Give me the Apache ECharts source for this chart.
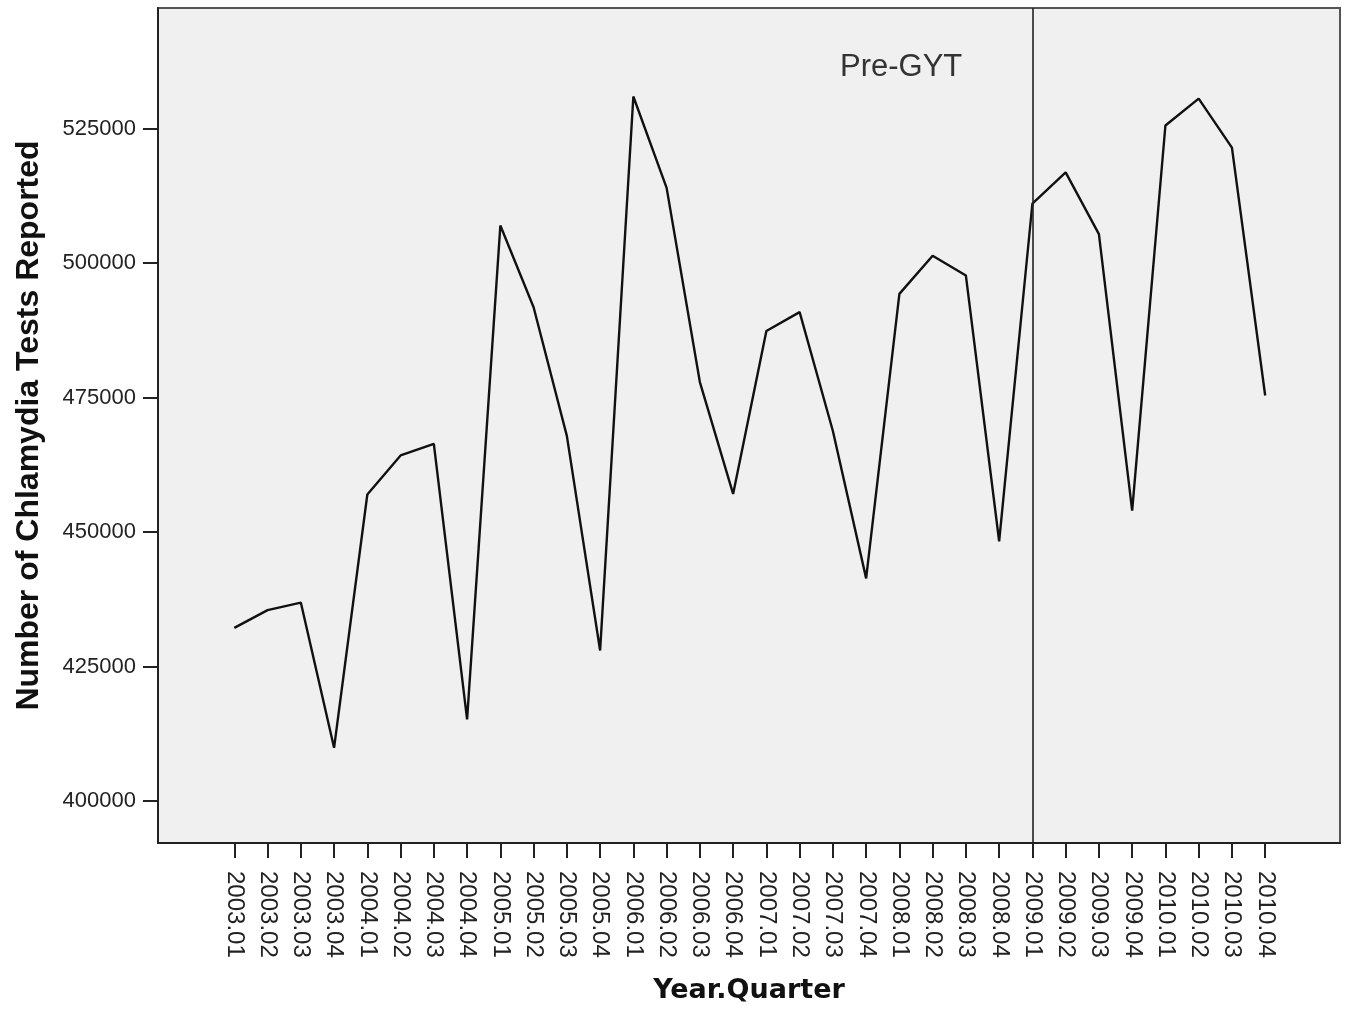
<!DOCTYPE html>
<html>
<head>
<meta charset="utf-8">
<script src="https://cdn.jsdelivr.net/npm/echarts@6/dist/echarts.min.js"></script>
<style>html,body{margin:0;padding:0;background:#fff;}#c{width:1349px;height:1009px;}</style>
</head>
<body>
<div id="c"></div>
<script>
const categories = ['2003.01','2003.02','2003.03','2003.04','2004.01','2004.02','2004.03','2004.04',
  '2005.01','2005.02','2005.03','2005.04','2006.01','2006.02','2006.03','2006.04',
  '2007.01','2007.02','2007.03','2007.04','2008.01','2008.02','2008.03','2008.04',
  '2009.01','2009.02','2009.03','2009.04','2010.01','2010.02','2010.03','2010.04'];
const tests = [432200, 435500, 436900, 409900, 457000, 464250, 466400, 415200,
  507000, 491800, 467900, 428000, 531000, 514000, 477900, 457100,
  487400, 490900, 468800, 441400, 494300, 501400, 497700, 448300,
  511100, 516900, 505400, 454000, 525600, 530600, 521500, 475400];
const yTicks = [400000, 425000, 450000, 475000, 500000, 525000];
const interventionCategory = '2009.01';
const annotationText = 'Pre-GYT';

const xIndex = categories.map((c, i) => i);
const seriesData = tests.map((v, i) => [i, v]);

const chart = echarts.init(document.getElementById('c'), null, {renderer: 'canvas'});
chart.setOption({
  animation: false,
  backgroundColor: '#ffffff',
  grid: {
    left: 158, right: 9, top: 8, bottom: 164,
    show: true, backgroundColor: '#f0f0f0', borderColor: '#555', borderWidth: 2
  },
  xAxis: {
    type: 'value',
    min: -2.295, max: 33.25,
    name: 'Year.Quarter',
    nameLocation: 'middle',
    nameGap: 134,
    nameTextStyle: {fontFamily: 'DejaVu Sans', fontWeight: 'bold', fontSize: 27, color: '#111'},
    axisLine: {show: true, onZero: false, lineStyle: {color: '#222', width: 2}},
    axisTick: {show: true, length: 15, customValues: xIndex, lineStyle: {color: '#222', width: 2}},
    axisLabel: {
      show: true, customValues: xIndex, rotate: -90, margin: 28,
      fontFamily: 'Liberation Sans', fontSize: 24, color: '#222',
      formatter: v => categories[Math.round(v)]
    },
    splitLine: {show: false}
  },
  yAxis: {
    type: 'value',
    min: 392200, max: 547450,
    name: 'Number of Chlamydia Tests Reported',
    nameLocation: 'middle',
    nameRotate: 90,
    nameGap: 113,
    nameTextStyle: {fontFamily: 'Liberation Sans', fontWeight: 'bold', fontSize: 32, color: '#111'},
    axisLine: {show: true, onZero: false, lineStyle: {color: '#222', width: 2}},
    axisTick: {show: true, length: 15, customValues: yTicks, lineStyle: {color: '#222', width: 2}},
    axisLabel: {
      show: true, customValues: yTicks, margin: 22,
      fontFamily: 'Liberation Sans', fontSize: 22, color: '#222',
      formatter: v => String(Math.round(v))
    },
    splitLine: {show: false}
  },
  series: [{
    type: 'line',
    data: seriesData,
    showSymbol: false,
    symbol: 'none',
    silent: true,
    lineStyle: {color: '#111', width: 2.4},
    markLine: {
      silent: true,
      symbol: 'none',
      label: {show: false},
      lineStyle: {color: '#222', width: 1.6, type: 'solid'},
      data: [{xAxis: categories.indexOf(interventionCategory)}]
    }
  }],
  graphic: [{
    type: 'text',
    x: 840, y: 67,
    style: {
      text: annotationText,
      fontFamily: 'Liberation Sans', fontSize: 31, fill: '#333',
      textAlign: 'left', textVerticalAlign: 'middle'
    }
  }]
});
</script>
</body>
</html>
